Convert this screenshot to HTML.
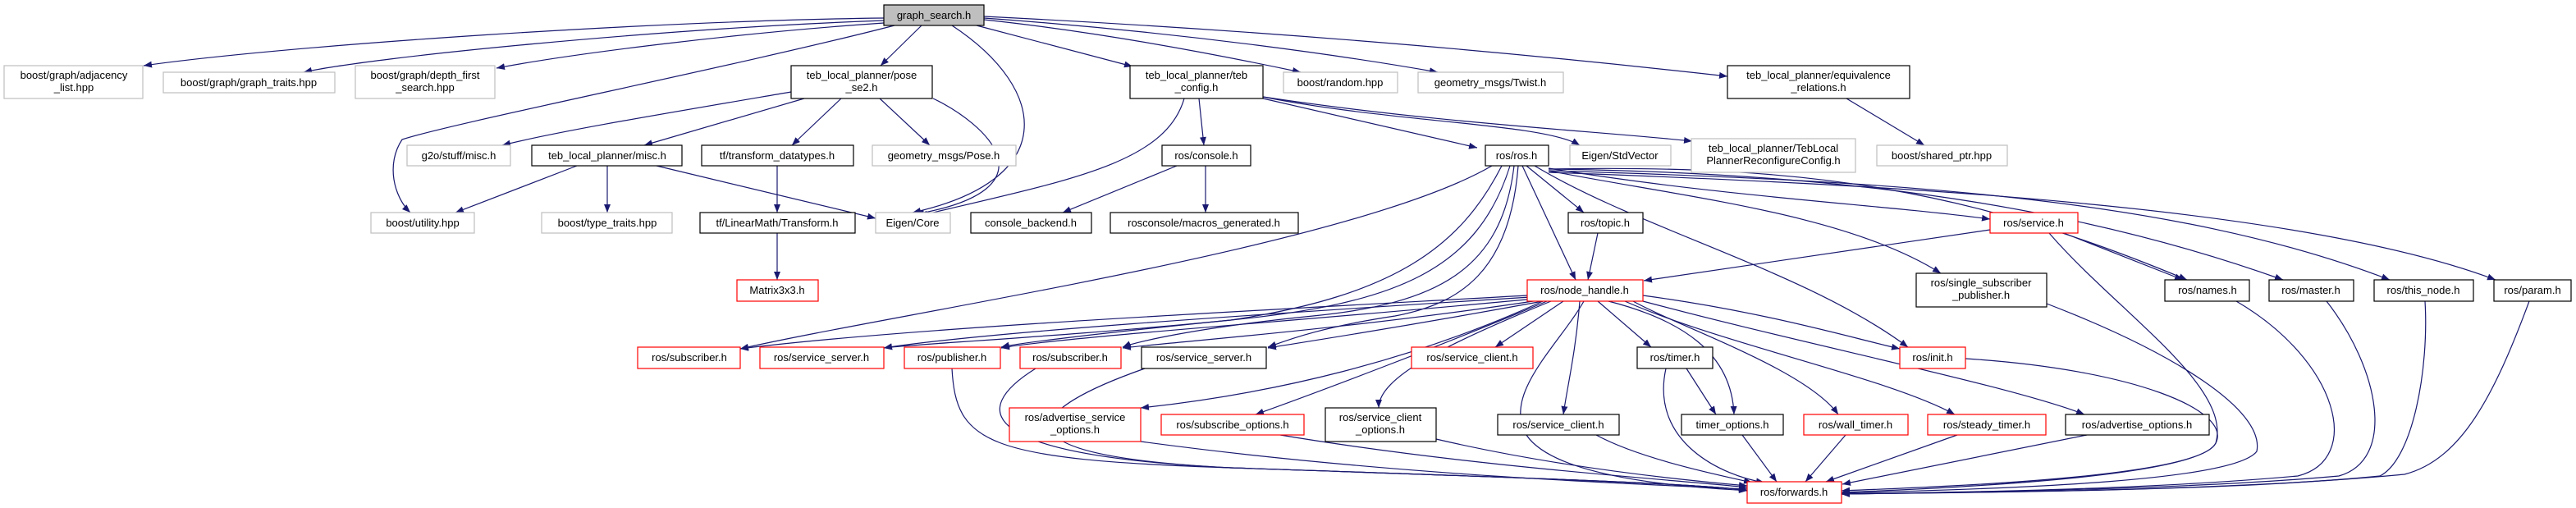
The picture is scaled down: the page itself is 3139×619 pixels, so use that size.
<!DOCTYPE html>
<html><head><meta charset="utf-8"><style>
html,body{margin:0;padding:0;background:#fff;}
svg{display:block;}
text{font-family:"Liberation Sans","DejaVu Sans",sans-serif;font-size:13px;fill:#000;text-anchor:middle;}
</style></head><body>
<svg width="3139" height="619" viewBox="0 0 3139 619" xmlns="http://www.w3.org/2000/svg">
<defs><marker id="a" viewBox="0 0 10 8" refX="10" refY="4" markerWidth="10" markerHeight="8" markerUnits="userSpaceOnUse" orient="auto"><path d="M0,0 L10,4 L0,8 z" fill="#191970"/></marker></defs>
<g id="edges" fill="none" stroke="#191970" stroke-width="1.2" marker-end="url(#a)">
<path d="M1077,22 C800,25 350,55 175,80"/>
<path d="M1077,25 C800,35 450,70 370,88"/>
<path d="M1077,28 C900,40 700,65 605,83"/>
<path d="M1090,31 C900,80 550,150 490,170 C470,200 480,240 500,259"/>
<path d="M1123,31 L1073,80"/>
<path d="M1160,31 C1280,110 1290,220 1112,259"/>
<path d="M1190,31 L1380,81"/>
<path d="M1199,24 C1350,40 1500,70 1585,88"/>
<path d="M1199,22 C1450,40 1650,70 1752,88"/>
<path d="M1199,20 C1600,40 1900,70 2105,93"/>
<path d="M964,112 C800,140 680,160 612,177"/>
<path d="M980,120 L785,177"/>
<path d="M1025,120 L965,177"/>
<path d="M1072,120 L1133,177"/>
<path d="M1137,120 C1200,150 1290,230 1116,261"/>
<path d="M703,202 L555,259"/>
<path d="M740,202 L740,259"/>
<path d="M800,202 L1067,266"/>
<path d="M947,202 L947,259"/>
<path d="M947,284 L947,341"/>
<path d="M1443,120 C1420,200 1300,220 1120,263"/>
<path d="M1461,120 L1467,177"/>
<path d="M1539,120 L1800,180"/>
<path d="M1539,118 C1700,150 1880,150 1925,177"/>
<path d="M1539,118 C1750,150 1950,160 2062,172"/>
<path d="M1434,202 L1295,259"/>
<path d="M1469,202 L1469,259"/>
<path d="M2250,120 L2345,177"/>
<path d="M1818,202 C1650,300 1100,380 902,425"/>
<path d="M1830,202 C1780,300 1700,360 1500,390 C1300,410 1100,420 1077,424"/>
<path d="M1840,202 C1800,330 1700,370 1500,390 C1350,405 1240,418 1220,423"/>
<path d="M1845,202 C1830,330 1750,370 1600,385 C1450,400 1380,418 1368,423"/>
<path d="M1850,202 C1840,330 1780,370 1700,385 C1600,400 1560,418 1545,423"/>
<path d="M1855,202 L1920,341"/>
<path d="M1860,202 L1930,259"/>
<path d="M1870,202 C2000,280 2200,330 2325,423"/>
<path d="M1887,205 C2100,240 2300,250 2425,267"/>
<path d="M1887,208 C2050,240 2250,260 2365,333"/>
<path d="M1887,206 C2200,200 2400,230 2665,341"/>
<path d="M1887,206 C2200,210 2500,240 2782,341"/>
<path d="M1887,208 C2300,220 2650,240 2912,341"/>
<path d="M1887,210 C2300,225 2800,250 3041,341"/>
<path d="M1947,284 L1935,341"/>
<path d="M2425,280 L2003,342"/>
<path d="M2515,284 L2660,341"/>
<path d="M2497,284 C2580,380 2720,470 2700,540 C2680,580 2400,592 2244,598"/>
<path d="M1861,360 C1500,380 1100,400 902,425"/>
<path d="M1865,362 C1500,385 1200,405 1077,424"/>
<path d="M1870,364 C1600,390 1300,410 1220,424"/>
<path d="M1875,366 C1650,400 1450,415 1368,424"/>
<path d="M1880,367 C1700,400 1600,415 1545,424"/>
<path d="M1905,367 L1822,423"/>
<path d="M1947,367 L2012,423"/>
<path d="M1880,367 C1720,440 1550,480 1390,497"/>
<path d="M1885,367 C1760,420 1600,480 1530,505"/>
<path d="M1890,367 C1760,420 1680,460 1680,497"/>
<path d="M1925,367 C1920,430 1910,470 1905,505"/>
<path d="M1930,367 C1900,420 1830,480 1860,530 C1900,590 2100,595 2129,598"/>
<path d="M2002,360 C2150,380 2250,410 2315,425"/>
<path d="M1990,367 C2050,400 2200,450 2240,505"/>
<path d="M1980,367 C2100,420 2300,460 2382,505"/>
<path d="M2002,367 C2200,420 2450,470 2540,505"/>
<path d="M1960,367 C2050,390 2110,430 2113,505"/>
<path d="M2055,449 L2091,505"/>
<path d="M2030,449 C2010,540 2100,580 2150,588"/>
<path d="M1160,449 C1165,540 1200,560 1500,570 C1800,580 2100,590 2129,598"/>
<path d="M1262,449 C1180,500 1190,555 1500,570 C1800,580 2100,590 2129,598"/>
<path d="M1395,449 C1250,500 1200,555 1500,570 C1800,580 2100,590 2129,598"/>
<path d="M1390,538 C1700,580 2000,590 2129,596"/>
<path d="M1560,530 C1800,570 2050,585 2129,594"/>
<path d="M1750,535 C1900,570 2050,585 2129,592"/>
<path d="M1945,530 C2000,560 2100,580 2135,588"/>
<path d="M2123,530 L2165,587"/>
<path d="M2249,530 L2200,587"/>
<path d="M2385,530 L2225,587"/>
<path d="M2543,530 L2245,590"/>
<path d="M2395,437 C2600,450 2720,500 2700,540 C2680,580 2400,594 2244,600"/>
<path d="M2494,370 C2650,430 2760,500 2750,550 C2720,590 2400,596 2244,601"/>
<path d="M2725,367 C2850,440 2880,560 2800,580 C2600,598 2350,600 2244,602"/>
<path d="M2835,367 C2900,450 2920,560 2850,580 C2650,598 2350,600 2244,602"/>
<path d="M2955,367 C2960,450 2940,560 2900,580 C2700,600 2350,600 2244,602"/>
<path d="M3082,367 C3040,480 3000,560 2930,578 C2700,600 2350,600 2244,602"/>
</g>
<g stroke-width="1.2">
<rect x="1077" y="6" width="122" height="25" fill="#bfbfbf" stroke="#000"/><text x="1138" y="23">graph_search.h</text>

<rect x="5" y="80" width="169" height="40" fill="#fff" stroke="#bfbfbf"/><text x="90" y="96">boost/graph/adjacency</text><text x="90" y="111">_list.hpp</text>
<rect x="199" y="88" width="209" height="25" fill="#fff" stroke="#bfbfbf"/><text x="303" y="105">boost/graph/graph_traits.hpp</text>
<rect x="433" y="80" width="170" height="40" fill="#fff" stroke="#bfbfbf"/><text x="518" y="96">boost/graph/depth_first</text><text x="518" y="111">_search.hpp</text>
<rect x="964" y="80" width="172" height="40" fill="#fff" stroke="#000"/><text x="1050" y="96">teb_local_planner/pose</text><text x="1050" y="111">_se2.h</text>
<rect x="1377" y="80" width="162" height="40" fill="#fff" stroke="#000"/><text x="1458" y="96">teb_local_planner/teb</text><text x="1458" y="111">_config.h</text>
<rect x="1564" y="88" width="139" height="25" fill="#fff" stroke="#bfbfbf"/><text x="1633" y="105">boost/random.hpp</text>
<rect x="1728" y="88" width="177" height="25" fill="#fff" stroke="#bfbfbf"/><text x="1816" y="105">geometry_msgs/Twist.h</text>
<rect x="2105" y="80" width="222" height="40" fill="#fff" stroke="#000"/><text x="2216" y="96">teb_local_planner/equivalence</text><text x="2216" y="111">_relations.h</text>

<rect x="496" y="177" width="126" height="25" fill="#fff" stroke="#bfbfbf"/><text x="559" y="194">g2o/stuff/misc.h</text>
<rect x="648" y="177" width="183" height="25" fill="#fff" stroke="#000"/><text x="740" y="194">teb_local_planner/misc.h</text>
<rect x="855" y="177" width="185" height="25" fill="#fff" stroke="#000"/><text x="947" y="194">tf/transform_datatypes.h</text>
<rect x="1063" y="177" width="175" height="25" fill="#fff" stroke="#bfbfbf"/><text x="1150" y="194">geometry_msgs/Pose.h</text>
<rect x="1416" y="177" width="108" height="25" fill="#fff" stroke="#000"/><text x="1470" y="194">ros/console.h</text>
<rect x="1810" y="177" width="77" height="25" fill="#fff" stroke="#000"/><text x="1848" y="194">ros/ros.h</text>
<rect x="1913" y="177" width="123" height="25" fill="#fff" stroke="#bfbfbf"/><text x="1974" y="194">Eigen/StdVector</text>
<rect x="2061" y="169" width="200" height="41" fill="#fff" stroke="#bfbfbf"/><text x="2161" y="185">teb_local_planner/TebLocal</text><text x="2161" y="200">PlannerReconfigureConfig.h</text>
<rect x="2287" y="177" width="159" height="25" fill="#fff" stroke="#bfbfbf"/><text x="2366" y="194">boost/shared_ptr.hpp</text>

<rect x="452" y="259" width="126" height="25" fill="#fff" stroke="#bfbfbf"/><text x="515" y="276">boost/utility.hpp</text>
<rect x="660" y="259" width="159" height="25" fill="#fff" stroke="#bfbfbf"/><text x="740" y="276">boost/type_traits.hpp</text>
<rect x="853" y="259" width="189" height="25" fill="#fff" stroke="#000"/><text x="947" y="276">tf/LinearMath/Transform.h</text>
<rect x="1067" y="259" width="91" height="25" fill="#fff" stroke="#bfbfbf"/><text x="1112" y="276">Eigen/Core</text>
<rect x="1183" y="259" width="147" height="25" fill="#fff" stroke="#000"/><text x="1256" y="276">console_backend.h</text>
<rect x="1353" y="259" width="229" height="25" fill="#fff" stroke="#000"/><text x="1467" y="276">rosconsole/macros_generated.h</text>
<rect x="1911" y="259" width="91" height="25" fill="#fff" stroke="#000"/><text x="1956" y="276">ros/topic.h</text>
<rect x="2425" y="259" width="107" height="25" fill="#fff" stroke="#f00"/><text x="2478" y="276">ros/service.h</text>

<rect x="898" y="341" width="99" height="26" fill="#fff" stroke="#f00"/><text x="947" y="358">Matrix3x3.h</text>
<rect x="1861" y="341" width="141" height="26" fill="#fff" stroke="#f00"/><text x="1931" y="358">ros/node_handle.h</text>
<rect x="2335" y="333" width="159" height="41" fill="#fff" stroke="#000"/><text x="2414" y="349">ros/single_subscriber</text><text x="2414" y="364">_publisher.h</text>
<rect x="2638" y="341" width="103" height="26" fill="#fff" stroke="#000"/><text x="2690" y="358">ros/names.h</text>
<rect x="2765" y="341" width="103" height="26" fill="#fff" stroke="#000"/><text x="2816" y="358">ros/master.h</text>
<rect x="2893" y="341" width="121" height="26" fill="#fff" stroke="#000"/><text x="2953" y="358">ros/this_node.h</text>
<rect x="3039" y="341" width="94" height="26" fill="#fff" stroke="#000"/><text x="3086" y="358">ros/param.h</text>

<rect x="777" y="423" width="125" height="26" fill="#fff" stroke="#f00"/><text x="840" y="440">ros/subscriber.h</text>
<rect x="926" y="423" width="151" height="26" fill="#fff" stroke="#f00"/><text x="1001" y="440">ros/service_server.h</text>
<rect x="1102" y="423" width="117" height="26" fill="#fff" stroke="#f00"/><text x="1160" y="440">ros/publisher.h</text>
<rect x="1243" y="423" width="123" height="26" fill="#fff" stroke="#f00"/><text x="1304" y="440">ros/subscriber.h</text>
<rect x="1391" y="423" width="152" height="26" fill="#fff" stroke="#000"/><text x="1467" y="440">ros/service_server.h</text>
<rect x="1720" y="423" width="148" height="26" fill="#fff" stroke="#f00"/><text x="1794" y="440">ros/service_client.h</text>
<rect x="1995" y="423" width="92" height="26" fill="#fff" stroke="#000"/><text x="2041" y="440">ros/timer.h</text>
<rect x="2315" y="423" width="80" height="26" fill="#fff" stroke="#f00"/><text x="2355" y="440">ros/init.h</text>

<rect x="1230" y="497" width="160" height="41" fill="#fff" stroke="#f00"/><text x="1310" y="513">ros/advertise_service</text><text x="1310" y="528">_options.h</text>
<rect x="1415" y="505" width="174" height="25" fill="#fff" stroke="#f00"/><text x="1502" y="522">ros/subscribe_options.h</text>
<rect x="1615" y="497" width="135" height="41" fill="#fff" stroke="#000"/><text x="1682" y="513">ros/service_client</text><text x="1682" y="528">_options.h</text>
<rect x="1825" y="505" width="148" height="25" fill="#fff" stroke="#000"/><text x="1899" y="522">ros/service_client.h</text>
<rect x="2049" y="505" width="124" height="25" fill="#fff" stroke="#000"/><text x="2111" y="522">timer_options.h</text>
<rect x="2198" y="505" width="127" height="25" fill="#fff" stroke="#f00"/><text x="2261" y="522">ros/wall_timer.h</text>
<rect x="2349" y="505" width="144" height="25" fill="#fff" stroke="#f00"/><text x="2421" y="522">ros/steady_timer.h</text>
<rect x="2517" y="505" width="175" height="25" fill="#fff" stroke="#000"/><text x="2604" y="522">ros/advertise_options.h</text>

<rect x="2129" y="587" width="115" height="26" fill="#fff" stroke="#f00"/><text x="2186" y="604">ros/forwards.h</text>
</g>
</svg>
</body></html>
